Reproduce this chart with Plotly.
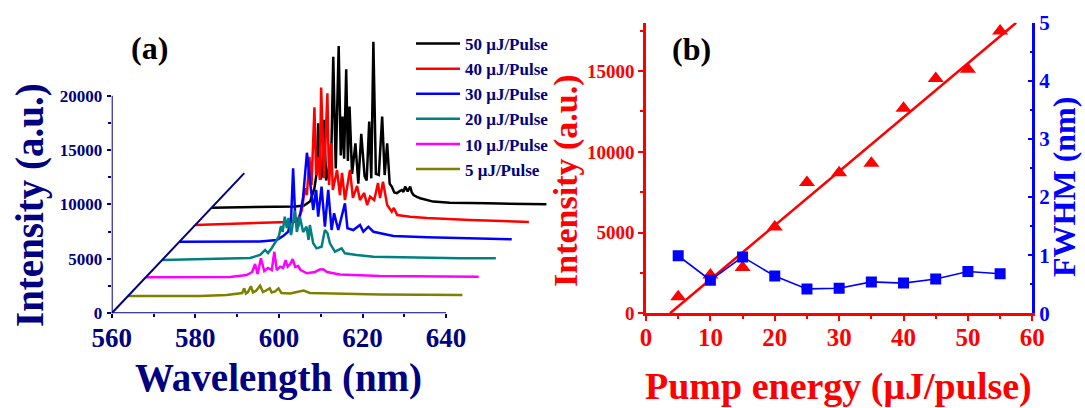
import plotly.graph_objects as go

# ---------------- Panel (a): lasing spectra (raw, before waterfall stacking) ----------------
series_names = ["50 μJ/Pulse", "40 μJ/Pulse", "30 μJ/Pulse", "20 μJ/Pulse", "10 μJ/Pulse", "5 μJ/Pulse"]
series_colors = ["#000000", "#FF0000", "#0000FF", "#008080", "#FF00FF", "#808000"]
stack_index = [6, 5, 4, 3, 2, 1]

wl_50 = [560, 568, 576, 580, 582, 583.5, 584.5, 585.0, 585.4, 585.9, 586.3, 586.8, 587.3, 588.0, 588.5,
         589.0, 589.6, 590.3, 590.8, 591.2, 591.6, 592.1, 592.5, 592.9, 593.5, 594.3, 595.0, 595.7, 596.5,
         597.0, 597.6, 598.1, 598.6, 599.2, 599.9, 600.7, 601.3, 601.9, 602.5, 603.0, 603.6, 604.2, 604.8,
         605.4, 605.8, 606.2, 606.8, 607.4, 607.8, 608.2, 609.0, 609.8, 612.9, 616.9, 626, 640]
int_50 = [-40, -10, 40, 80, 160, 560, 1760, 3060, 7720, 2560, 2860, 8030, 2460, 3760, 4260,
          13840, 3560, 14830, 4760, 8330, 4460, 12690, 4260, 9250, 3060, 5880, 2160, 6740, 2860,
          2460, 7870, 2660, 15220, 3060, 2960, 8330, 2960, 5880, 2160, 1900, 1360, 1290, 1460,
          1590, 1410, 1900, 1460, 1900, 1360, 1130, 960, 830, 520, 420, 360, 270]

wl_40 = [560, 575.5, 584.3, 585.5, 586.2, 586.7, 587.3, 587.8, 588.5, 588.9, 589.4, 589.8, 590.1, 590.8,
         591.6, 592.0, 592.5, 592.9, 593.9, 594.6, 595.1, 595.8, 597.0, 597.7, 598.7, 599.4, 600.4, 601.1,
         601.8, 602.8, 603.7, 604.2, 604.9, 605.9, 607.0, 607.5, 608.3, 611.4, 615.4, 625.7, 639.8]
int_40 = [-5, 210, 300, 1370, 3370, 2750, 6270, 3670, 10810, 4590, 6270, 4130, 12620, 4300,
          12100, 3670, 7530, 3210, 5050, 2750, 4780, 2290, 5050, 2480, 3580, 2290, 2940, 1830,
          2600, 2290, 3860, 2480, 3980, 1830, 1220, 1560, 910, 760, 640, 460, 270]

wl_30 = [560.2, 579.5, 583.5, 585.0, 586.2, 586.9, 587.4, 587.9, 588.6, 589.8, 590.7, 591.4, 592.2, 592.9,
         593.4, 594.2, 595.0, 595.8, 596.6, 597.2, 598.2, 599.8, 600.4, 601.8, 603.4, 604.2, 605.4, 606.6,
         608.2, 611.4, 619.4, 639.7]
int_30 = [85, 100, 240, 600, 1000, 2080, 6830, 2380, 1460, 4220, 8260, 6060, 3000, 4840,
          2380, 5140, 1460, 4840, 1160, 2700, 1160, 3610, 1320, 1160, 1620, 1000, 1460, 1000,
          860, 610, 490, 300]

wl_20 = [560.1, 581.1, 583.5, 584.7, 585.4, 586.3, 587.5, 588.0, 588.5, 588.9, 589.4, 589.9, 590.3, 590.9,
         591.8, 592.3, 593.0, 593.8, 594.6, 595.1, 595.4, 596.2, 597.0, 598.2, 599.0, 599.6, 600.2, 601.4,
         603.0, 603.8, 606.6, 610.6, 631.3, 639.9]
int_20 = [27, 210, 490, 950, 670, 1130, 1870, 2230, 3150, 2600, 4010, 2970, 3890, 2320,
          4560, 2600, 4010, 2600, 3090, 1870, 3240, 1560, 1100, 1250, 2780, 2510, 1560, 790,
          1100, 640, 490, 330, 180, 180]

wl_10 = [560.2, 580.3, 584.3, 585.6, 586.3, 586.9, 587.7, 588.5, 589.4, 590.3, 590.9, 591.5, 592.3, 593.0,
         593.6, 594.1, 594.7, 595.3, 595.9, 596.6, 597.2, 598.7, 600.6, 601.8, 602.6, 603.5, 606.6, 616.2,
         639.8]
int_10 = [60, 90, 270, 550, 1280, 360, 1810, 640, 920, 730, 2410, 730, 1040, 920,
          1650, 1040, 1280, 1740, 1010, 1100, 730, 430, 550, 780, 800, 550, 320, 180,
          120]

wl_5 = [559.9, 577.1, 583.5, 586.2, 587.2, 587.7, 588.1, 588.6, 589.3, 589.8, 590.5, 591.5, 592.2, 592.9,
        593.8, 594.3, 595.1, 595.9, 596.6, 598.7, 600.1, 601.9, 603.4, 608.2, 620.2, 639.9]
int_5 = [-30, -30, 60, 200, 240, 670, 200, 330, 860, 290, 430, 910, 330, 470,
         670, 290, 380, 660, 240, 200, 290, 470, 240, 200, 100, 60]

spectra_wl = [wl_50, wl_40, wl_30, wl_20, wl_10, wl_5]
spectra_int = [int_50, int_40, int_30, int_20, int_10, int_5]

# waterfall stacking step (wavelength shift, intensity shift per spectrum)
shift_nm = 4.0
shift_int = 1624.0
depth_axis_len = 7.93

a_xticks = [560, 580, 600, 620, 640]
a_xminor = [570, 590, 610, 630]
a_yticks = [0, 5000, 10000, 15000, 20000]
a_yminor = [2500, 7500, 12500, 17500]

# ---------------- Panel (b): pump-energy dependence ----------------
pump = [5, 10, 15, 20, 25, 30, 35, 40, 45, 50, 55]
peak_intensity = [1030, 2380, 2830, 5340, 8100, 8700, 9300, 12700, 14550, 15120, 17480]
fwhm = [0.99, 0.57, 0.97, 0.64, 0.42, 0.43, 0.54, 0.52, 0.59, 0.72, 0.68]
fit_x = [3.73, 57.5]
fit_y = [0, 18000]

b_xticks = [0, 10, 20, 30, 40, 50, 60]
b_xminor = [5, 15, 25, 35, 45, 55]
b_yticks = [0, 5000, 10000, 15000]
b_yminor = [2500, 7500, 12500, 17500]
b_y2ticks = [0, 1, 2, 3, 4, 5]
b_y2minor = [0.5, 1.5, 2.5, 3.5, 4.5]

W, H = 1085, 408
FONT = "Liberation Serif, Times New Roman, serif"
NAVY = "#000080"
RED = "#FF0000"
BLUE = "#0000FF"


def px_x(p):
    return p / W


def px_y(p):
    return 1 - p / H


fig = go.Figure()

for name, color, k, wl, inten in zip(series_names, series_colors, stack_index, spectra_wl, spectra_int):
    fig.add_trace(go.Scatter(
        x=[w + k * shift_nm for w in wl],
        y=[v + k * shift_int for v in inten],
        mode="lines", name=name,
        line=dict(color=color, width=2.5),
        xaxis="x", yaxis="y", showlegend=True,
    ))

fig.add_trace(go.Scatter(x=fit_x, y=fit_y, mode="lines", line=dict(color=RED, width=2.5),
                         xaxis="x2", yaxis="y2", showlegend=False))
fig.add_trace(go.Scatter(x=pump, y=peak_intensity, mode="markers",
                         marker=dict(symbol="triangle-up", size=14, color=RED),
                         xaxis="x2", yaxis="y2", showlegend=False))
fig.add_trace(go.Scatter(x=pump, y=fwhm, mode="lines+markers",
                         line=dict(color=BLUE, width=1.6),
                         marker=dict(symbol="square", size=11, color=BLUE),
                         xaxis="x2", yaxis="y3", showlegend=False))

a_dom_x = [px_x(111.7), px_x(554.8)]
a_dom_y = [px_y(313.3), px_y(30.4)]
b_dom_x = [px_x(646), px_x(1032.3)]
b_dom_y = [px_y(313.3), px_y(22.7)]

bold = dict(family=FONT, weight="bold")
common = dict(showgrid=False, zeroline=False, automargin=False, tickformat="d", tickmode="array")

fig.update_layout(
    template="none",
    width=W, height=H, autosize=False,
    margin=dict(l=0, r=0, t=0, b=0, pad=0, autoexpand=False),
    paper_bgcolor="white", plot_bgcolor="rgba(0,0,0,0)",
    font=dict(family=FONT, weight="bold", color=NAVY),
    xaxis=dict(domain=a_dom_x, range=[560, 666], anchor="y",
               tickvals=a_xticks, ticks="outside", ticklen=4, tickwidth=1.5,
               tickcolor=NAVY, showline=False, ticklabelstandoff=-4,
               tickfont=dict(size=27, color=NAVY, **bold),
               minor=dict(tickmode="array", tickvals=a_xminor, ticks="outside", ticklen=3,
                          tickwidth=1.5, tickcolor=NAVY, showgrid=False), **common),
    yaxis=dict(domain=a_dom_y, range=[0, 26000], anchor="x",
               tickvals=a_yticks, ticks="outside", ticklen=4, tickwidth=1.5,
               tickcolor=NAVY, showline=False, ticklabelstandoff=1,
               tickfont=dict(size=17, color=NAVY, **bold),
               minor=dict(tickmode="array", tickvals=a_yminor, ticks="outside", ticklen=3,
                          tickwidth=1.5, tickcolor=NAVY, showgrid=False), **common),
    xaxis2=dict(domain=b_dom_x, range=[0, 60], anchor="y2",
                tickvals=b_xticks, ticks="outside", ticklen=5, tickwidth=2,
                tickcolor=RED, showline=True, linecolor=RED, linewidth=2.5, mirror=False,
                ticklabelstandoff=-5,
                tickfont=dict(size=25, color=RED, **bold),
                minor=dict(tickmode="array", tickvals=b_xminor, ticks="outside", ticklen=3,
                           tickwidth=2, tickcolor=RED, showgrid=False), **common),
    xaxis3=dict(domain=b_dom_x, range=[0, 60], anchor="y2", overlaying="x2", side="top",
                tickvals=b_xticks + b_xminor, ticks="inside", ticklen=3, tickwidth=1.5,
                tickcolor=BLUE, showline=True, linecolor=BLUE, linewidth=2.5,
                showticklabels=False, **common),
    yaxis2=dict(domain=b_dom_y, range=[0, 18000], anchor="x2",
                tickvals=b_yticks, ticks="outside", ticklen=5, tickwidth=2,
                tickcolor=RED, showline=True, linecolor=RED, linewidth=2.5,
                tickfont=dict(size=19, color=RED, **bold),
                minor=dict(tickmode="array", tickvals=b_yminor, ticks="outside", ticklen=3,
                           tickwidth=2, tickcolor=RED, showgrid=False), **common),
    yaxis3=dict(domain=b_dom_y, range=[0, 5], anchor="x2", overlaying="y2", side="right",
                tickvals=b_y2ticks, ticks="inside", ticklen=5, tickwidth=2,
                tickcolor=BLUE, showline=True, linecolor=BLUE, linewidth=2.5,
                tickfont=dict(size=21, color=BLUE, **bold),
                minor=dict(tickmode="array", tickvals=b_y2minor, ticks="inside", ticklen=3,
                           tickwidth=2, tickcolor=BLUE, showgrid=False), **common),
    legend=dict(x=px_x(411), y=px_y(26), xanchor="left", yanchor="top",
                bgcolor="rgba(0,0,0,0)", borderwidth=0, itemwidth=44,
                font=dict(size=17, color=NAVY, **bold), tracegroupgap=0),
    showlegend=True,
)

# axis lines of the waterfall panel (x axis only up to 640, y axis only up to 20000) and depth axis
fig.add_shape(type="line", xref="x", yref="y", x0=a_xticks[0], y0=0, x1=a_xticks[-1], y1=0,
              line=dict(color=NAVY, width=2))
fig.add_shape(type="line", xref="x", yref="y", x0=a_xticks[0], y0=0, x1=a_xticks[0], y1=a_yticks[-1],
              line=dict(color=NAVY, width=2))
fig.add_shape(type="line", xref="x", yref="y", x0=a_xticks[0], y0=0,
              x1=a_xticks[0] + shift_nm * depth_axis_len, y1=shift_int * depth_axis_len,
              line=dict(color=NAVY, width=2))

ann = [
    dict(text="(a)", x=px_x(149), y=px_y(48), font=dict(size=32, color="black", **bold)),
    dict(text="(b)", x=px_x(691), y=px_y(49), font=dict(size=32, color="black", **bold)),
    dict(text="Intensity (a.u.)", x=px_x(30), y=px_y(205), textangle=-90,
         font=dict(size=39, color=NAVY, **bold)),
    dict(text="Wavelength (nm)", x=px_x(278), y=px_y(378),
         font=dict(size=39, color=NAVY, **bold)),
    dict(text="Intensity (a.u.)", x=px_x(566), y=px_y(181), textangle=-90,
         font=dict(size=34, color=RED, **bold)),
    dict(text="FWHM (nm)", x=px_x(1064), y=px_y(187), textangle=-90,
         font=dict(size=32, color=BLUE, **bold)),
    dict(text="Pump energy (μJ/pulse)", x=px_x(838), y=px_y(386),
         font=dict(size=38, color=RED, **bold)),
]
for a in ann:
    fig.add_annotation(xref="paper", yref="paper", showarrow=False,
                       xanchor="center", yanchor="middle", **a)

fig.write_html("out.html")
